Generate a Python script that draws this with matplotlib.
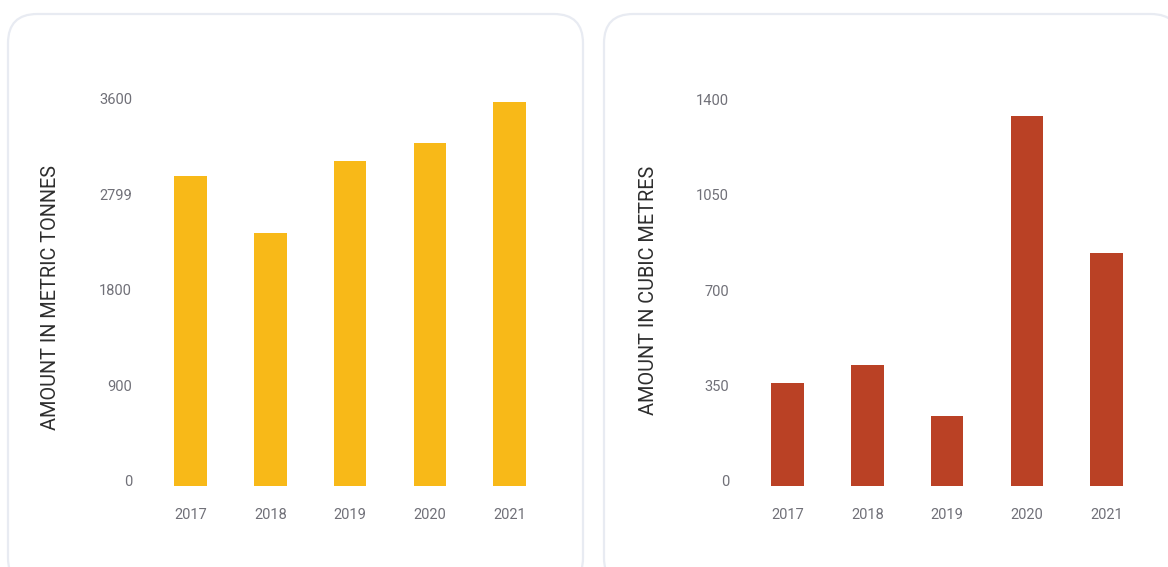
import matplotlib
matplotlib.use("Agg")
import matplotlib.pyplot as plt
from matplotlib.patches import FancyBboxPatch
from matplotlib.transforms import ScaledTranslation

plt.rcParams['font.family'] = ['Roboto', 'DejaVu Sans']

# data
years = ["2017", "2018", "2019", "2020", "2021"]
tonnes = [2921, 2384, 3063, 3232, 3619]
cubic_metres = [377, 443, 257, 1356, 854]

tonnes_ticks = [0, 900, 1800, 2700, 3600]
tonnes_labels = ["0", "900", "1800", "2799", "3600"]
cubic_ticks = [0, 350, 700, 1050, 1400]
cubic_labels = ["0", "350", "700", "1050", "1400"]

W, H = 1168, 567
fig = plt.figure(figsize=(W / 100, H / 100), dpi=100)
fig.patch.set_facecolor("white")

# cards behind the charts
for x0, x1 in [(8, 583), (604, 1180)]:
    card = FancyBboxPatch((x0 / W, -20 / H), (x1 - x0) / W, (H + 20 - 14) / H,
                          boxstyle="round,pad=0,rounding_size=0.025",
                          transform=fig.transFigure, facecolor="white",
                          edgecolor="#e8ebf2", linewidth=1.6, zorder=-5,
                          mutation_aspect=W / H)
    fig.patches.append(card)


def bar_panel(left_px, values, color, ticks, labels, px_per_unit, ylabel, label_x, label_y):
    ymax = ticks[-1] * 1.03
    height_px = ymax / px_per_unit
    ax = fig.add_axes([left_px / W, (H - 486) / H, 399 / W, height_px / H])
    ax.set_facecolor("none")
    ax.bar(range(len(years)), values, width=0.41, color=color, zorder=2)
    ax.set_xlim(-0.5, 4.5)
    ax.set_ylim(0, ymax)
    ax.set_xticks(range(len(years)))
    ax.set_xticklabels(years)
    ax.set_yticks(ticks)
    ax.set_yticklabels(labels)
    for s in ax.spines.values():
        s.set_visible(False)
    ax.tick_params(axis="both", length=0, labelsize=10.5, labelcolor="#707078")
    ax.tick_params(axis="y", pad=13.4)
    ax.tick_params(axis="x", pad=16)
    off = ScaledTranslation(0, 5 / 100, fig.dpi_scale_trans)
    for t in ax.get_yticklabels():
        t.set_transform(t.get_transform() + off)
    fig.text(label_x / W, 1 - label_y / H, ylabel, rotation=90, ha="center",
             va="center", fontsize=14.3, color="#2e2e2e")
    return ax


bar_panel(150.6, tonnes, "#F8B918", tonnes_ticks, tonnes_labels, 9.424,
          "AMOUNT IN METRIC TONNES", 51, 297)
bar_panel(747.6, cubic_metres, "#BA4125", cubic_ticks, cubic_labels, 3.665,
          "AMOUNT IN CUBIC METRES", 648, 290)

fig.savefig("out.png", dpi=100, facecolor="white")
